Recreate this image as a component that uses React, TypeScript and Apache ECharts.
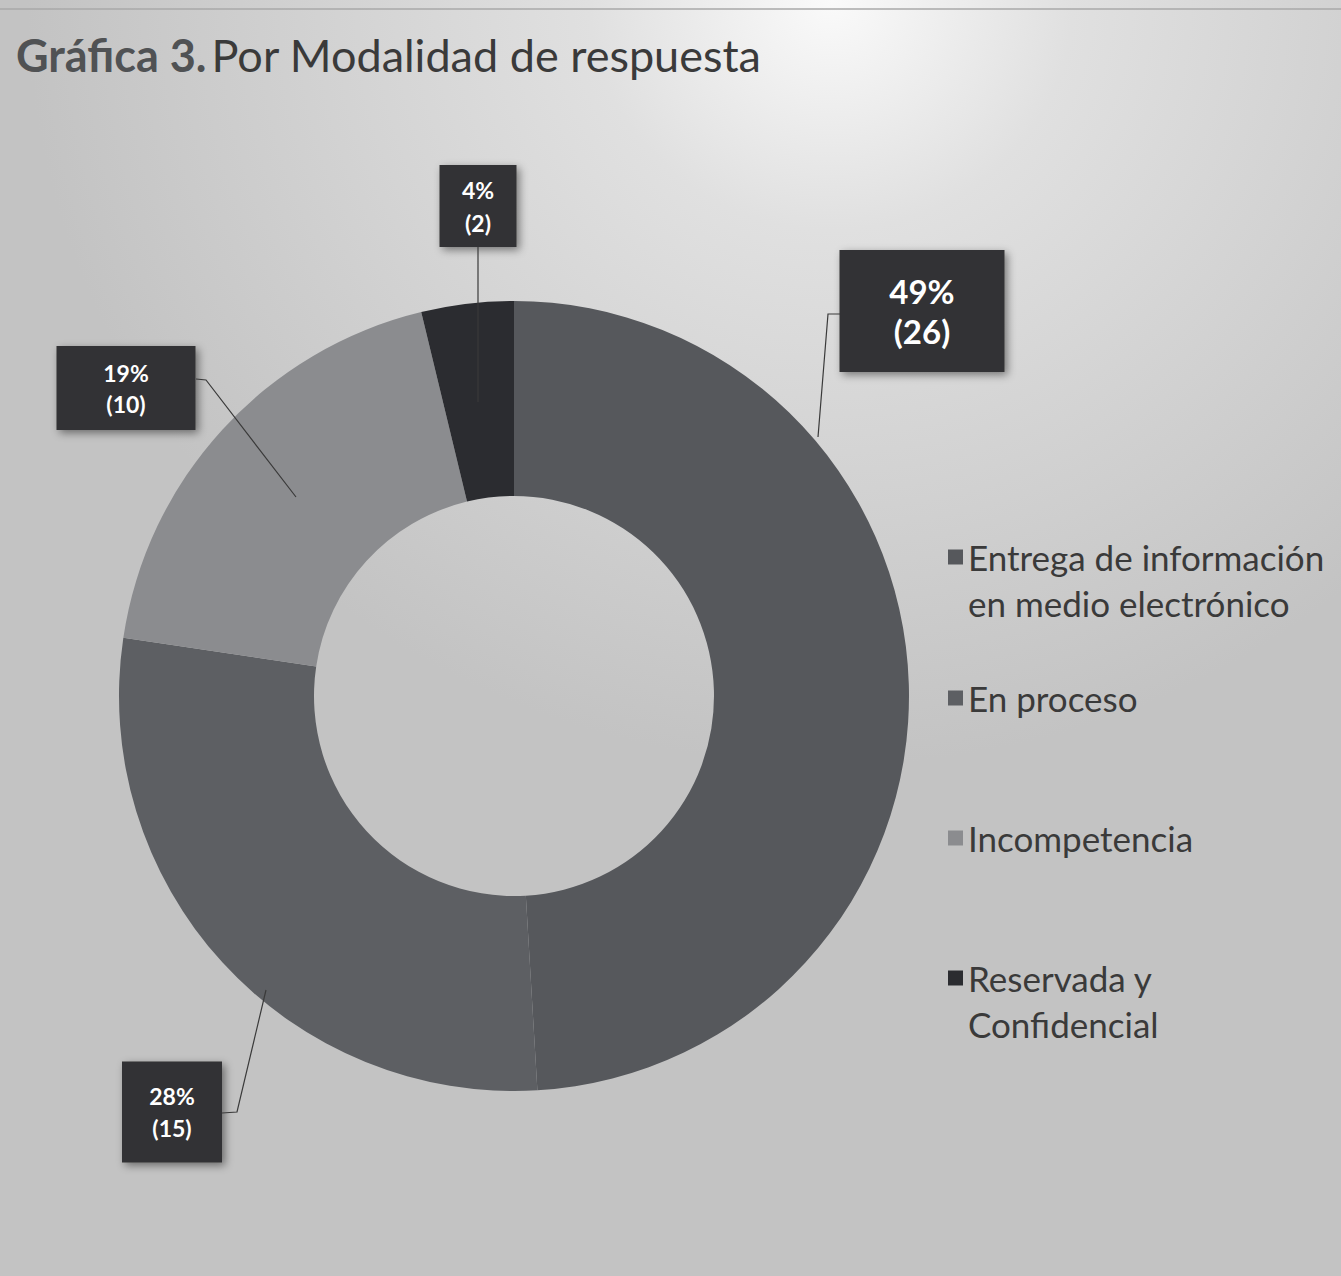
import React, { useEffect, useRef } from "react";
import * as echarts from "echarts";

const categories = [
  "Entrega de información en medio electrónico",
  "En proceso",
  "Incompetencia",
  "Reservada y Confidencial",
];
const legendText = [
  "Entrega de información\nen medio electrónico",
  "En proceso",
  "Incompetencia",
  "Reservada y\nConfidencial",
];
const values = [26, 15, 10, 2];
const colors = ["#56585c", "#5d5f63", "#8b8c8f", "#2b2c30"];

// label box placement (layout only)
const labelBoxes = [
  { cx: 922, cy: 311, w: 165, h: 122, fs: 33, lh: 40, line: [[818, 437], [828, 314], [840, 314]] },
  { cx: 172, cy: 1112, w: 100, h: 101, fs: 23, lh: 32, line: [[266, 990], [237, 1112], [222, 1113]] },
  { cx: 126, cy: 388, w: 139, h: 84, fs: 23, lh: 31, line: [[296, 497], [206, 380], [196, 379]] },
  { cx: 478, cy: 206, w: 77, h: 82, fs: 23, lh: 33, line: [[478, 402], [478, 300], [478, 247]] },
];
const legendIconY = [557, 698, 838, 978];

export default function App() {
  const ref = useRef<HTMLDivElement>(null);
  useEffect(() => {
    document.body.style.margin = "0";
    const chart = echarts.init(ref.current!, null, { renderer: "svg" });
    const FONT = "Lato";
    const LH = 46;
    const option: any = {
      animation: false,
      backgroundColor: {
        type: "radial",
        x: 0.62,
        y: 0.0,
        r: 0.6,
        colorStops: [
          { offset: 0, color: "#fafafa" },
          { offset: 0.3, color: "#e0e0e0" },
          { offset: 1, color: "#c3c3c3" },
        ],
      },
      title: {
        text: "{b|Gráfica 3.} {n|Por Modalidad de respuesta}",
        left: 11,
        top: 27,
        textStyle: {
          rich: {
            b: { fontFamily: FONT, fontWeight: "bold", fontSize: 45, color: "#505254" },
            n: { fontFamily: FONT, fontWeight: "normal", fontSize: 45, color: "#3a3a3a" },
          },
        },
      },
      graphic: [
        {
          type: "line",
          shape: { x1: 0, y1: 9, x2: 1341, y2: 9 },
          style: { stroke: "#a8a8a8", lineWidth: 1.5 },
        },
        ...labelBoxes.map((b) => ({
          type: "polyline",
          z: 100,
          shape: { points: b.line },
          style: { stroke: "#3a3a3a", lineWidth: 1.2, fill: null },
          silent: true,
        })),
      ],
      legend: categories.map((name, i) => {
        const multi = legendText[i].includes("\n");
        return {
          data: [name],
          left: 948,
          top: legendIconY[i] - (multi ? LH * 1.5 : LH / 2),
          padding: 0,
          itemWidth: 15,
          itemHeight: 15,
          icon: "rect",
          selectedMode: false,
          formatter: () => (multi ? " \n" : "") + legendText[i],
          textStyle: {
            fontFamily: FONT,
            fontSize: 35,
            lineHeight: LH,
            color: "#3a3a3a",
          },
        };
      }),
      series: [
        {
          type: "pie",
          center: [514, 696],
          radius: [200, 395],
          startAngle: 90,
          clockwise: true,
          avoidLabelOverlap: false,
          percentPrecision: 0,
          label: {
            show: true,
            position: "outside",
            formatter: "{d}%\n({c})",
            color: "#ffffff",
            fontWeight: "bold",
            fontFamily: FONT,
            backgroundColor: "#313235",
            shadowColor: "rgba(0,0,0,0.45)",
            shadowBlur: 8,
            shadowOffsetX: 3,
            shadowOffsetY: 3,
          },
          labelLine: { show: false },
          labelLayout: (p: any) => {
            const b = labelBoxes[p.dataIndex];
            return { x: b.cx, y: b.cy, align: "center", verticalAlign: "middle" };
          },
          data: categories.map((name, i) => {
            const b = labelBoxes[i];
            const pv = Math.max(0, (b.h - 2 * b.lh) / 2);
            return {
              name,
              value: values[i],
              itemStyle: { color: colors[i] },
              label: {
                fontSize: b.fs,
                lineHeight: b.lh,
                width: b.w,
                padding: [pv, 0, pv, 0],
              },
            };
          }),
        },
      ],
    };
    chart.setOption(option);
    return () => chart.dispose();
  }, []);
  return <div ref={ref} style={{ width: 1341, height: 1276 }} />;
}
